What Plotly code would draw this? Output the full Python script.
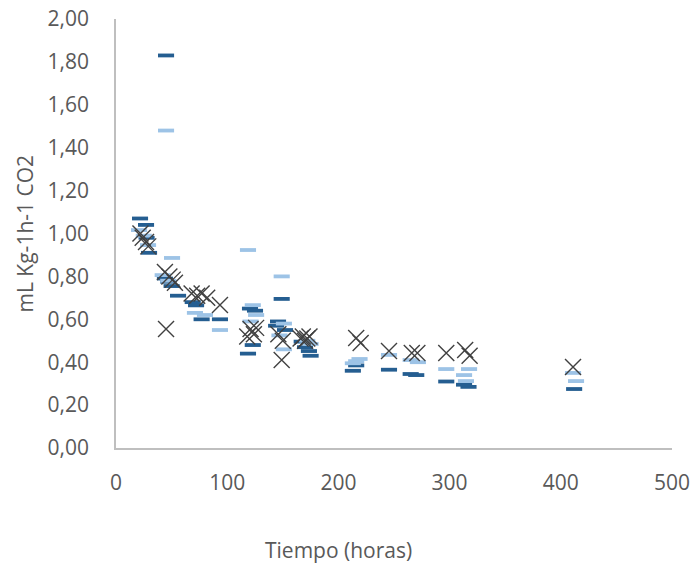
import plotly.graph_objects as go

# Respiration rate (mL CO2 per kg per hour) over storage time, three sample sets
dark_x = [21.6, 27, 27.5, 29.7, 45, 44, 47, 50, 55.8, 69, 72, 77, 93.5,
          118.7, 120.5, 125, 123, 145.7, 144, 149, 152, 167, 170, 173.5, 175,
          213, 216, 245.5, 265, 270, 297, 313, 317, 412]
dark_y = [1.07, 1.04, 0.98, 0.91, 1.83, 0.79, 0.775, 0.755, 0.71, 0.68, 0.665, 0.60, 0.60,
          0.44, 0.65, 0.64, 0.48, 0.59, 0.57, 0.695, 0.55, 0.496, 0.47, 0.452, 0.43,
          0.36, 0.385, 0.365, 0.345, 0.34, 0.31, 0.295, 0.285, 0.275]

light_x = [20.7, 25, 28.8, 45, 50.4, 42, 47, 71, 80, 93.5,
           118.7, 123, 126, 121, 149, 151, 147, 151, 172, 175,
           213, 216, 219, 245.5, 265, 271.5, 297, 317.5, 313, 314.7, 411, 413.7]
light_y = [1.016, 0.99, 0.946, 1.48, 0.886, 0.806, 0.78, 0.63, 0.62, 0.55,
           0.923, 0.666, 0.62, 0.59, 0.80, 0.58, 0.525, 0.46, 0.50, 0.485,
           0.395, 0.405, 0.415, 0.434, 0.41, 0.40, 0.368, 0.368, 0.34, 0.312, 0.35, 0.312]

cross_x = [22, 24, 27, 29, 44, 45, 48, 51, 53, 68, 73, 77, 82, 93.5,
           118, 121, 124, 126, 146, 149, 150, 166, 168, 170, 172, 174,
           216, 220, 245.5, 266, 271, 297, 314, 318, 411]
cross_y = [1.00, 0.98, 0.96, 0.94, 0.82, 0.555, 0.80, 0.785, 0.77, 0.72, 0.71, 0.72, 0.70, 0.667,
           0.52, 0.555, 0.53, 0.56, 0.53, 0.41, 0.50, 0.51, 0.52, 0.50, 0.51, 0.52,
           0.513, 0.49, 0.452, 0.443, 0.443, 0.443, 0.457, 0.43, 0.378]

x_ticks = [0, 100, 200, 300, 400, 500]
y_ticks = [0, 0.2, 0.4, 0.6, 0.8, 1.0, 1.2, 1.4, 1.6, 1.8, 2.0]

DARK = "#255E91"
LIGHT = "#9DC3E6"
CROSS = "#404040"
TEXT = "#595959"
FONT = "Open Sans"

fig = go.Figure()
fig.add_trace(go.Scatter(
    x=dark_x, y=dark_y, mode="markers",
    marker=dict(symbol="line-ew", size=11.5, color=DARK,
                line=dict(color=DARK, width=3.8)),
))
fig.add_trace(go.Scatter(
    x=light_x, y=light_y, mode="markers",
    marker=dict(symbol="line-ew", size=11.5, color=LIGHT,
                line=dict(color=LIGHT, width=3.8)),
))
fig.add_trace(go.Scatter(
    x=cross_x, y=cross_y, mode="markers",
    marker=dict(symbol="x-thin", size=16, color=CROSS,
                line=dict(color=CROSS, width=1.4)),
))

fig.update_layout(
    width=698, height=569,
    margin=dict(l=116, r=26, t=19, b=121),
    paper_bgcolor="white", plot_bgcolor="white",
    showlegend=False,
    separators=",.",
    font=dict(family=FONT, color=TEXT, size=20),
    xaxis=dict(
        range=[0, 500], tickvals=x_ticks, showgrid=False, zeroline=False,
        automargin=False,
        showline=True, linecolor="#BFBFBF", linewidth=1.5,
        ticks="", ticklabelstandoff=15,
        tickfont=dict(family=FONT, color=TEXT, size=21),
    ),
    yaxis=dict(
        range=[0, 2.0], tickvals=y_ticks, tickformat=".2f",
        showgrid=False, zeroline=False,
        automargin=False,
        showline=True, linecolor="#BFBFBF", linewidth=1.5,
        ticks="", ticklabelstandoff=21,
        tickfont=dict(family=FONT, color=TEXT, size=21),
    ),
    annotations=[
        dict(text="Tiempo (horas)", xref="paper", yref="paper",
             x=(338 - 116) / 556, y=(448 - 550) / 429,
             xanchor="center", yanchor="middle", showarrow=False,
             font=dict(family=FONT, color=TEXT, size=21)),
        dict(text="mL Kg-1h-1 CO2", xref="paper", yref="paper",
             x=(24 - 116) / 556, y=0.5, textangle=-90,
             xanchor="center", yanchor="middle", showarrow=False,
             font=dict(family=FONT, color=TEXT, size=21)),
    ],
)

fig.write_html("out.html")
